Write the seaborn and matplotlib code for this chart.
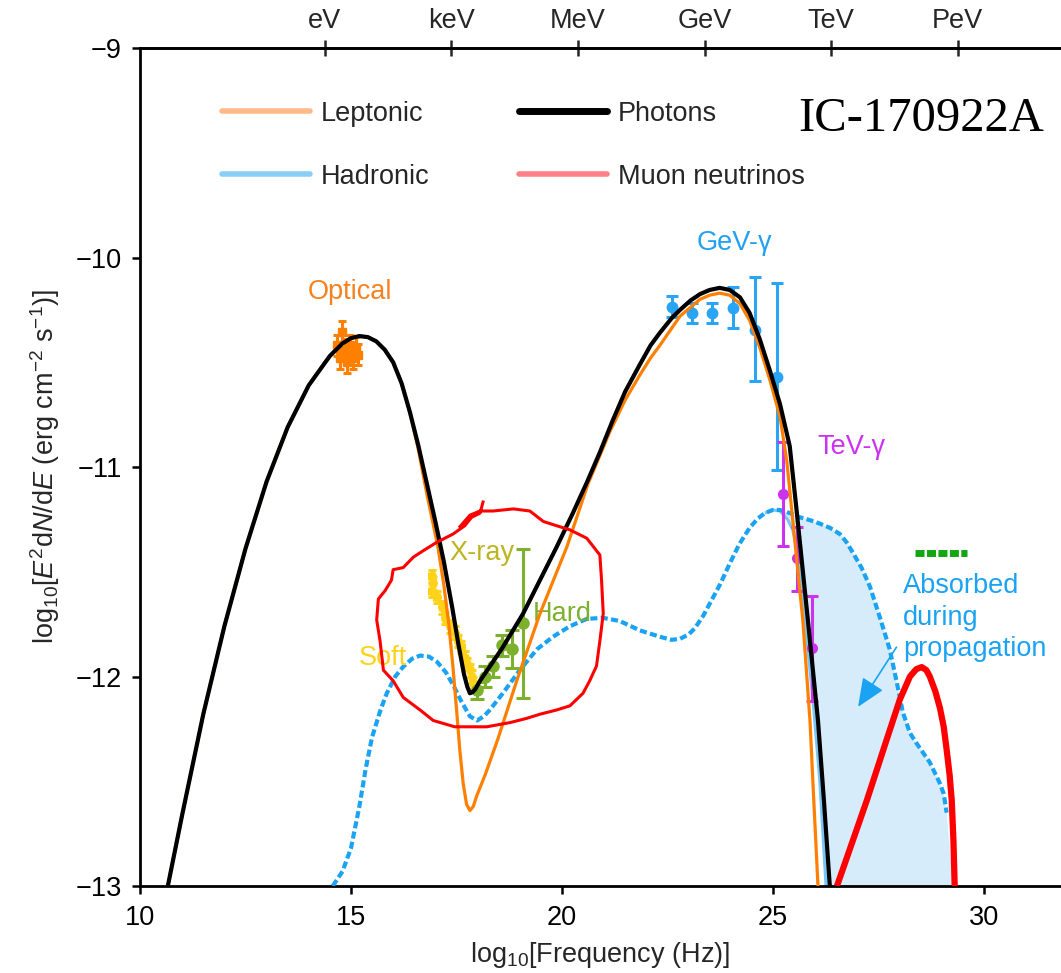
import numpy as np
import pandas as pd
import matplotlib
matplotlib.use("Agg")
import matplotlib.pyplot as plt
from matplotlib.lines import Line2D
import seaborn as sns

# ---------------- data ----------------
photons_x = [10.66, 11.0, 11.5, 12.0, 12.5, 13.0, 13.5, 14.0, 14.5, 14.8, 15.0, 15.2, 15.4, 15.6, 15.8,
             16.0, 16.2, 16.4, 16.6, 16.8, 17.0, 17.2, 17.4, 17.55, 17.68, 17.76, 17.82, 17.88, 17.95,
             18.06, 18.3, 18.6, 19.08, 19.48, 19.88, 20.26, 20.6, 20.9, 21.2, 21.5, 21.85, 22.1, 22.32,
             22.6, 22.8, 23.05, 23.27, 23.5, 23.74, 23.98, 24.22, 24.45, 24.69, 24.93, 25.17, 25.40,
             25.48, 25.57, 25.83, 26.07, 26.21, 26.35]
photons_y = [-13.0, -12.66, -12.18, -11.76, -11.39, -11.07, -10.81, -10.61, -10.47, -10.41, -10.385,
             -10.375, -10.38, -10.40, -10.44, -10.50, -10.60, -10.74, -10.90, -11.08, -11.26, -11.45,
             -11.67, -11.85, -11.99, -12.05, -12.08, -12.075, -12.06, -12.02, -11.95, -11.86, -11.70,
             -11.54, -11.38, -11.22, -11.07, -10.93, -10.78, -10.64, -10.51, -10.42, -10.36, -10.29,
             -10.25, -10.205, -10.175, -10.155, -10.145, -10.155, -10.19, -10.265, -10.39, -10.54,
             -10.70, -10.90, -11.05, -11.22, -11.73, -12.21, -12.59, -13.0]

leptonic_x = [10.66, 11.0, 11.5, 12.0, 12.5, 13.0, 13.5, 14.0, 14.5, 14.8, 15.0, 15.2, 15.4, 15.6, 15.8,
              16.0, 16.2, 16.4, 16.6, 16.8, 17.06, 17.20, 17.32, 17.42, 17.50, 17.58, 17.66, 17.74,
              17.82, 17.90, 17.98, 18.18, 18.48, 18.93, 19.48, 20.12, 20.62, 21.14, 21.5, 21.85, 22.1,
              22.32, 22.8, 23.27, 23.5, 23.74, 23.98, 24.22, 24.45, 24.69, 24.93, 25.17, 25.33, 25.47,
              25.71, 25.88, 25.97, 26.07]
leptonic_y = [-13.0, -12.66, -12.18, -11.76, -11.39, -11.07, -10.81, -10.61, -10.47, -10.41, -10.385,
              -10.375, -10.38, -10.40, -10.44, -10.50, -10.60, -10.74, -10.92, -11.13, -11.38, -11.56,
              -11.75, -11.96, -12.15, -12.35, -12.51, -12.61, -12.64, -12.62, -12.57, -12.47, -12.30,
              -12.02, -11.70, -11.38, -11.08, -10.83, -10.68, -10.56, -10.48, -10.42, -10.28, -10.20,
              -10.18, -10.17, -10.18, -10.22, -10.30, -10.43, -10.585, -10.76, -10.97, -11.25, -11.73,
              -12.21, -12.59, -13.0]

hadronic_x = [14.57, 14.8, 15.0, 15.2, 15.35, 15.5, 15.7, 15.85, 16.05, 16.23, 16.45, 16.64, 16.85,
              17.04, 17.25, 17.42, 17.62, 17.82, 17.99, 18.15, 18.29, 18.60, 19.00, 19.41, 19.79, 20.19,
              20.59, 20.97, 21.37, 21.85, 22.32, 22.60, 22.80, 23.00, 23.15, 23.35, 23.51, 23.75, 23.98,
              24.2, 24.45, 24.65, 24.81, 25.0, 25.17, 25.4, 25.64, 25.9, 26.11, 26.35, 26.59, 26.75,
              26.90, 27.10, 27.30, 27.54, 27.77, 27.94, 28.08, 28.25, 28.41, 28.72, 28.96, 29.05, 29.12]
hadronic_y = [-13.0, -12.93, -12.82, -12.62, -12.44, -12.29, -12.16, -12.08, -12.00, -11.955, -11.915,
              -11.90, -11.905, -11.93, -11.98, -12.04, -12.12, -12.19, -12.21, -12.19, -12.16, -12.08,
              -11.97, -11.87, -11.81, -11.76, -11.725, -11.72, -11.735, -11.78, -11.81, -11.825, -11.82,
              -11.80, -11.77, -11.71, -11.65, -11.56, -11.46, -11.37, -11.29, -11.245, -11.22, -11.205,
              -11.205, -11.22, -11.24, -11.255, -11.27, -11.29, -11.32, -11.36, -11.41, -11.48, -11.57,
              -11.72, -11.87, -12.03, -12.17, -12.27, -12.32, -12.41, -12.51, -12.56, -12.65]

absorbed_x = [24.81, 25.0, 25.17, 25.35, 25.47, 25.56, 25.64, 25.72, 25.81, 25.95, 26.11, 26.26]
absorbed_y = [-11.22, -11.205, -11.21, -11.25, -11.30, -11.38, -11.49, -11.64, -11.83, -12.11, -12.49, -13.0]
absorbed_edge_x = 29.27  # where the absorbed band meets the floor

neutrino_x = [26.52, 27.23, 27.70, 28.01, 28.25, 28.40, 28.53, 28.64, 28.72, 28.85, 28.96, 29.05,
              29.12, 29.19, 29.24, 29.28, 29.31]
neutrino_y = [-13.0, -12.59, -12.30, -12.11, -12.00, -11.965, -11.955, -11.97, -12.00, -12.07, -12.15,
              -12.24, -12.35, -12.47, -12.59, -12.78, -13.0]

limit_x = [28.36, 29.60]
limit_y = [-11.41, -11.41]

scribble_x = [18.14, 18.06, 17.86, 17.70, 17.42, 17.03, 16.71, 16.48, 16.24, 16.00, 15.96, 15.81, 15.73,
              15.65, 15.61, 15.69, 15.77, 16.00, 16.24, 16.64, 16.95, 17.46, 18.22, 18.77, 19.16, 19.48,
              19.87, 20.19, 20.50, 20.66, 20.82, 20.90, 20.98, 20.94, 20.90, 20.59, 20.19, 19.87, 19.56,
              19.24, 18.85, 18.37, 18.06, 17.82, 17.56]
scribble_y = [-11.16, -11.22, -11.24, -11.28, -11.32, -11.36, -11.40, -11.43, -11.48, -11.49, -11.54,
              -11.59, -11.61, -11.63, -11.73, -11.83, -11.97, -12.02, -12.10, -12.16, -12.21, -12.24,
              -12.24, -12.22, -12.20, -12.18, -12.16, -12.14, -12.08, -12.02, -11.95, -11.83, -11.70,
              -11.54, -11.42, -11.34, -11.30, -11.28, -11.26, -11.21, -11.20, -11.21, -11.21, -11.23,
              -11.29]

optical_x = [14.67, 14.74, 14.79, 14.86, 14.91, 14.98, 15.05, 15.12, 15.17]
optical_y = [-10.42, -10.48, -10.355, -10.44, -10.50, -10.42, -10.48, -10.43, -10.465]
optical_err = [0.05, 0.05, 0.05, 0.05, 0.05, 0.05, 0.05, 0.05, 0.05]

soft_x = [16.91, 16.95, 16.91, 17.03, 17.15, 17.23, 17.35, 17.46, 17.54, 17.62, 17.70, 17.74, 17.82,
          17.86, 17.90]
soft_y = [-11.52, -11.555, -11.59, -11.62, -11.67, -11.72, -11.76, -11.79, -11.83, -11.86, -11.91,
          -11.94, -11.97, -12.00, -12.03]
soft_err = [0.03] * 15

hard_x = [17.98, 18.18, 18.36, 18.57, 18.81, 19.08]
hard_y = [-12.065, -12.00, -11.95, -11.85, -11.87, -11.746]
hard_err = [0.04, 0.05, 0.05, 0.05, 0.09, 0.355]

gev_x = [22.61, 23.08, 23.56, 24.06, 24.57, 25.09]
gev_y = [-10.236, -10.265, -10.265, -10.241, -10.346, -10.57]
gev_err_lo = [0.05, 0.048, 0.048, 0.096, 0.243, 0.444]
gev_err_hi = [0.05, 0.048, 0.048, 0.100, 0.253, 0.448]

tev_x = [25.24, 25.57, 25.92]
tev_y = [-11.129, -11.435, -11.865]
tev_err_lo = [0.25, 0.157, 0.25]
tev_err_hi = [0.25, 0.147, 0.25]

energy_ticks = [14.383, 17.383, 20.383, 23.383, 26.383, 29.383]
energy_labels = ["eV", "keV", "MeV", "GeV", "TeV", "PeV"]
y_ticks = [-9, -10, -11, -12, -13]
x_ticks = [10, 15, 20, 25, 30]

# ---------------- style ----------------
sns.set_theme(style="ticks")
plt.rcParams["font.family"] = ["Liberation Sans", "DejaVu Sans"]
plt.rcParams["mathtext.fontset"] = "custom"
plt.rcParams["mathtext.rm"] = "Liberation Sans"
plt.rcParams["mathtext.it"] = "Liberation Sans:italic"
plt.rcParams["mathtext.bf"] = "Liberation Sans:bold"

FS = 19.5
C_ORANGE = "#FF7F00"
C_BLUE = "#1AA3F2"
C_BLUE_LIGHT = "#79C6F5"
C_FILL = "#D6ECFB"
C_RED = "#FF0000"

fig = plt.figure(figsize=(10.61, 9.73), dpi=100)
ax = fig.add_axes([0.13195, 0.08941, 0.86805, 0.86125])

# absorbed band
poly_x = [x for x in hadronic_x if x >= absorbed_x[0]] + [absorbed_edge_x] + absorbed_x[::-1]
poly_y = [y for x, y in zip(hadronic_x, hadronic_y) if x >= absorbed_x[0]] + [-13.0] + absorbed_y[::-1]
ax.fill(poly_x, poly_y, color=C_FILL, lw=0, zorder=1)


def line(xs, ys, color, lw, z, dashes=None, alpha=1.0):
    df = pd.DataFrame({"x": xs, "y": ys})
    n0 = len(ax.lines)
    sns.lineplot(data=df, x="x", y="y", ax=ax, sort=False, estimator=None, color=color,
                 lw=lw, zorder=z, alpha=alpha)
    ln = ax.lines[n0]
    ln.set_solid_capstyle("butt")
    ln.set_solid_joinstyle("round")
    if dashes is not None:
        ln.set_dashes(dashes)
        ln.set_dash_capstyle("butt")
    return ln


line(absorbed_x, absorbed_y, C_BLUE_LIGHT, 2.2, 2)
line(hadronic_x, hadronic_y, C_BLUE, 3.0, 3, dashes=(1.7, 0.8))
line(limit_x, limit_y, "#12A612", 5.0, 3, dashes=(1.3, 0.35))

# data points
ekw = dict(linestyle="none", elinewidth=2.2, capthick=2.2, zorder=4)
ax.errorbar(optical_x, optical_y, yerr=optical_err, fmt="s", ms=5.5, color="#FF8000", capsize=3, **ekw)
ax.errorbar(soft_x, soft_y, yerr=soft_err, xerr=0.05, fmt="o", ms=5.5, color="#FFD21A", capsize=3, **ekw)
ax.errorbar(hard_x, hard_y, yerr=hard_err, fmt="o", ms=8, color="#7DB02C", capsize=5, **ekw)
ax.errorbar(gev_x, gev_y, yerr=[gev_err_lo, gev_err_hi], fmt="o", ms=7.5, color="#2AA5F5", capsize=4.5, **ekw)
ax.errorbar(tev_x, tev_y, yerr=[tev_err_lo, tev_err_hi], fmt="o", ms=7, color="#CC33EE", capsize=4.5, **ekw)

line(leptonic_x, leptonic_y, C_ORANGE, 2.3, 5)
line(photons_x, photons_y, "black", 3.0, 6)
line(neutrino_x, neutrino_y, C_RED, 4.5, 6)
line(scribble_x, scribble_y, C_RED, 2.2, 7)

# arrow
ax.annotate("", xy=(27.02, -12.145), xytext=(27.93, -11.86),
            arrowprops=dict(arrowstyle="-|>,head_length=0.7,head_width=0.3", color=C_BLUE, lw=1.2,
                            mutation_scale=25, shrinkA=0, shrinkB=0), zorder=8)

# annotations
ax.text(14.98, -10.165, "Optical", color="#F5821F", fontsize=FS, ha="center", va="center")
ax.text(24.10, -9.93, "GeV-γ", color="#22A0F0", fontsize=FS, ha="center", va="center")
ax.text(26.87, -10.905, "TeV-γ", color="#CC33EE", fontsize=FS, ha="center", va="center")
ax.text(18.10, -11.41, "X-ray", color="#BDB520", fontsize=FS, ha="center", va="center")
ax.text(15.76, -11.91, "Soft", color="#FFD21A", fontsize=FS, ha="center", va="center")
ax.text(20.0, -11.70, "Hard", color="#7DB02C", fontsize=FS, ha="center", va="center")
ax.text(28.08, -11.72, "Absorbed\nduring\npropagation", color=C_BLUE, fontsize=FS,
        ha="left", va="center", linespacing=1.27)
ax.text(25.60, -9.338, "IC-170922A", fontsize=35, ha="left", va="center",
        family=["Liberation Serif", "DejaVu Serif"], color="black")

# legend
handles = [Line2D([], [], color="#FFB98A", lw=4),
           Line2D([], [], color="#8ACEF6", lw=4),
           Line2D([], [], color="black", lw=5),
           Line2D([], [], color="#FF8088", lw=4)]
labels = ["Leptonic", "Hadronic", "Photons", "Muon neutrinos"]
ax.legend(handles, labels, ncol=2, loc="upper left", bbox_to_anchor=(0.0893, 0.937), frameon=False,
          fontsize=FS, handlelength=3.25, handletextpad=0.4, columnspacing=3.3, labelspacing=1.37,
          borderaxespad=0, borderpad=0)

# axes
ax.set_xlim(10, 31.83)
ax.set_ylim(-13, -9)
ax.set_xticks(x_ticks)
ax.set_yticks(y_ticks)
ax.tick_params(axis="both", direction="out", length=6, width=1.8, labelsize=FS, pad=7, color="black",
               labelcolor="black")
ax.tick_params(axis="x", pad=8)
for s in ["left", "bottom", "top"]:
    ax.spines[s].set_linewidth(2.0)
    ax.spines[s].set_color("black")
ax.spines["right"].set_visible(False)
ax.set_facecolor("white")

ax.set_xlabel("log$_{10}$[Frequency (Hz)]", fontsize=FS, labelpad=6)
ax.set_ylabel("log$_{10}$[$E^{2}$d$N$/d$E$ (erg cm$^{-2}$ s$^{-1}$)]", fontsize=FS, labelpad=10)

sec = ax.secondary_xaxis("top")
sec.set_xticks(energy_ticks, energy_labels)
sec.tick_params(axis="x", direction="inout", length=12, width=1.8, labelsize=FS, pad=4)
sec.spines["top"].set_linewidth(2.0)

fig.savefig("out.png", dpi=100, facecolor="white")
